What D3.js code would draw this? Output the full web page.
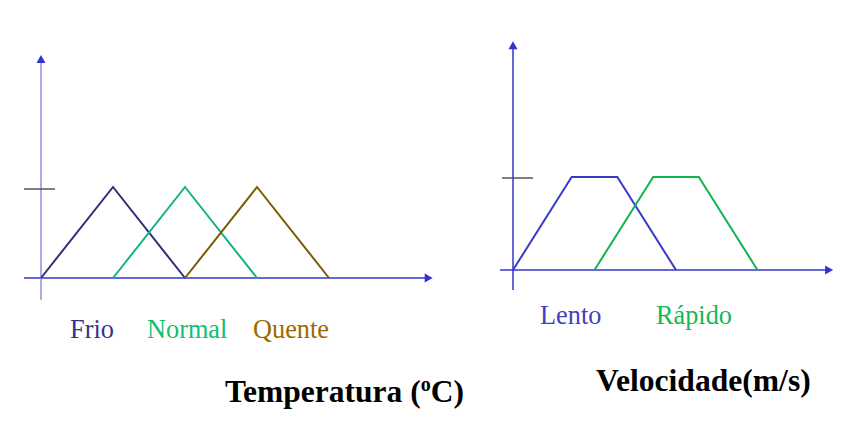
<!DOCTYPE html>
<html><head><meta charset="utf-8">
<script src="https://cdn.jsdelivr.net/npm/d3@7"></script>
<style>body{margin:0;background:#fff}svg{display:block}</style>
</head><body>
<svg id="c" width="846" height="421"></svg>
<script>
// ---- data ----
const tempSets = ["Frio", "Normal", "Quente"];
const tempX = [[0, 1, 2], [1, 2, 3], [2, 3, 4]];
const tempY = [[0, 1, 0], [0, 1, 0], [0, 1, 0]];
const tempColors = ["#2e2e7c", "#17b089", "#7a5a05"];
const tempLabelColors = ["#33338f", "#10c070", "#9a6a00"];
const velSets = ["Lento", "Rápido"];
const velX = [[0, 18, 32, 50], [25, 43, 57, 75]];
const velY = [[0, 1, 1, 0], [0, 1, 1, 0]];
const velColors = ["#3a3ac8", "#12b352"];
const velLabelColors = ["#4040c0", "#10b858"];
const tempTitle = "Temperatura (";
const velTitle = "Velocidade(m/s)";

const svg = d3.select("#c");
const axisBlue = "#3434cc";

function arrow(g, x, y, dir, color) {
  const L = 8, W = 4.5;
  let pts;
  if (dir === "right") pts = [[x, y], [x - L, y - W], [x - L, y + W]];
  else pts = [[x, y], [x - W, y + L], [x + W, y + L]];
  g.append("polygon").attr("points", pts.map(p => p.join(",")).join(" ")).attr("fill", color);
}

function panel(opts) {
  const g = svg.append("g");
  const x = d3.scaleLinear().domain(opts.xd).range(opts.xr);
  const y = d3.scaleLinear().domain([0, 1]).range(opts.yr);
  g.append("line").attr("x1", x(opts.xAxis[0])).attr("x2", x(opts.xAxis[1]) - 4)
    .attr("y1", y(0)).attr("y2", y(0)).attr("stroke", axisBlue).attr("stroke-width", 1.5);
  arrow(g, x(opts.xAxis[1]), y(0), "right", axisBlue);
  g.append("line").attr("x1", x(0)).attr("x2", x(0))
    .attr("y1", y(opts.yAxis[0])).attr("y2", y(opts.yAxis[1]) + 4)
    .attr("stroke", opts.yColor).attr("stroke-width", 1.5);
  arrow(g, x(0), y(opts.yAxis[1]), "up", axisBlue);
  g.append("line").attr("x1", opts.tick[0]).attr("x2", opts.tick[1])
    .attr("y1", y(1) + opts.tickOff).attr("y2", y(1) + opts.tickOff)
    .attr("stroke", "#555").attr("stroke-width", 1.5);
  const line = d3.line().x(d => x(d[0])).y(d => y(d[1]));
  opts.xs.forEach((xs, i) => {
    g.append("path").attr("d", line(xs.map((v, j) => [v, opts.ys[i][j]])))
      .attr("fill", "none").attr("stroke", opts.colors[i]).attr("stroke-width", 2)
      .attr("stroke-linejoin", "miter");
  });
  return g;
}

panel({
  xd: [0, 1], xr: [41, 113], yr: [278, 187],
  xAxis: [-0.236, 5.44], yAxis: [-0.24, 2.45], yColor: "#8c8ce4",
  tick: [24, 55], tickOff: 2,
  xs: tempX, ys: tempY, colors: tempColors
});
panel({
  xd: [0, 75], xr: [513, 757.5], yr: [270, 177],
  xAxis: [-4, 98.2], yAxis: [-0.215, 2.46], yColor: axisBlue,
  tick: [502, 533], tickOff: 1,
  xs: velX, ys: velY, colors: velColors
});

const serif = "'Liberation Serif','Times New Roman',serif";
const tempLabelX = [70, 147, 253];
tempSets.forEach((s, i) => {
  svg.append("text").attr("x", tempLabelX[i]).attr("y", 338).text(s)
    .attr("font-family", serif).attr("font-size", 26.3).attr("fill", tempLabelColors[i]);
});
const velLabelX = [540, 656];
velSets.forEach((s, i) => {
  svg.append("text").attr("x", velLabelX[i]).attr("y", 324).text(s)
    .attr("font-family", serif).attr("font-size", 26.3).attr("fill", velLabelColors[i]);
});
const t1 = svg.append("text").attr("x", 225).attr("y", 402)
  .attr("font-family", serif).attr("font-size", 31.5).attr("font-weight", "bold").attr("fill", "#000");
t1.append("tspan").text(tempTitle);
t1.append("tspan").text("o").attr("font-size", 20).attr("dy", -11);
t1.append("tspan").text("C)").attr("dy", 11);
svg.append("text").attr("x", 596).attr("y", 391).text(velTitle)
  .attr("font-family", serif).attr("font-size", 31.6).attr("font-weight", "bold").attr("fill", "#000");
</script>
</body></html>
